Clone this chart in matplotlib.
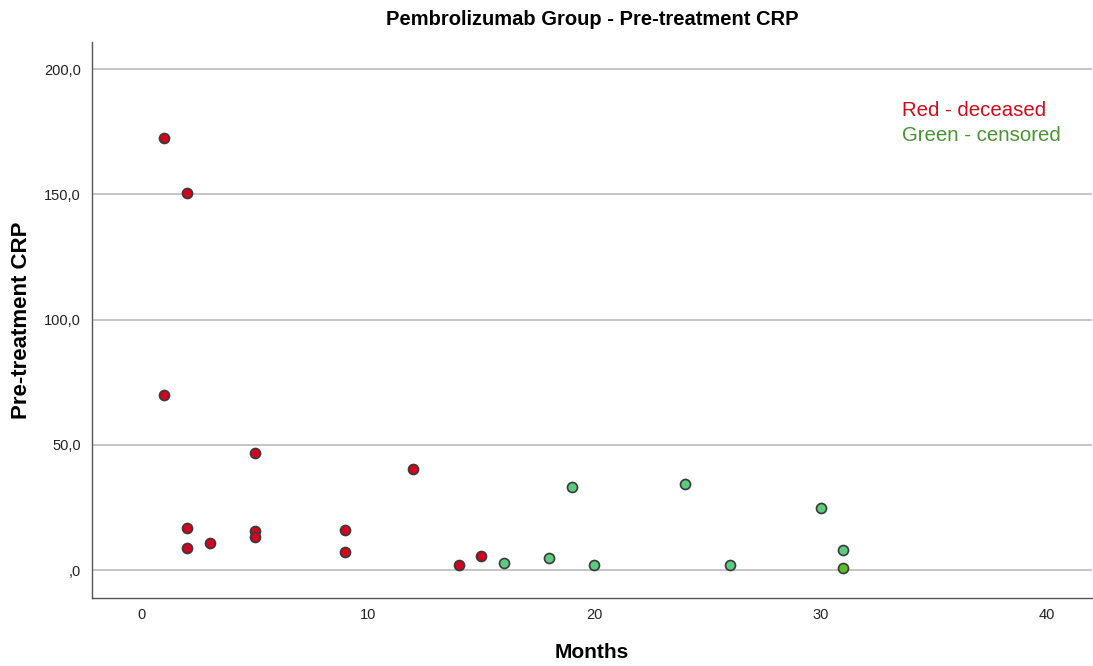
import matplotlib
matplotlib.use("Agg")
import matplotlib.pyplot as plt

plt.rcParams['font.family'] = ['Liberation Sans', 'DejaVu Sans']

# deceased patients (red)
dead_months = [1, 2, 1, 5, 2, 2, 3, 5, 5, 9, 9, 12, 14, 15]
dead_crp = [172.3, 150.5, 70.0, 46.7, 16.8, 8.8, 10.8, 15.6, 13.2, 16.0, 7.2, 40.3, 2.0, 5.6]

# censored patients (green)
cens_months = [16, 18, 19, 20, 24, 26, 30, 31]
cens_crp = [2.8, 4.8, 33.1, 2.0, 34.3, 2.0, 24.8, 8.0]
# one censored point drawn in a darker green
cens2_months = [31]
cens2_crp = [0.8]

yticks = [0, 50, 100, 150, 200]
ytick_labels = [',0', '50,0', '100,0', '150,0', '200,0']
xticks = [0, 10, 20, 30, 40]

fig = plt.figure(figsize=(10.93, 6.66), dpi=100)
ax = fig.add_axes([0.0842, 0.102, 0.915, 0.835])

ax.scatter(dead_months, dead_crp, s=52, facecolor='#d4001f', edgecolor='#3a3a3a',
           linewidth=1.2, zorder=3)
ax.scatter(cens_months, cens_crp, s=52, facecolor='#5bcc7c', edgecolor='#3a3a3a',
           linewidth=1.2, zorder=3)
ax.scatter(cens2_months, cens2_crp, s=52, facecolor='#5cbf2a', edgecolor='#3a3a3a',
           linewidth=1.2, zorder=3)

ax.set_xlim(-2.2, 42.0)
ax.set_ylim(-11.2, 210.8)
ax.set_xticks(xticks)
ax.set_yticks(yticks)
ax.set_yticklabels(ytick_labels)
ax.tick_params(length=0, labelsize=10.5, colors='#222222')
ax.tick_params(axis='y', pad=8)
ax.tick_params(axis='x', pad=7)

ax.yaxis.grid(True, color='#c6c6c6', linewidth=1.4)
ax.set_axisbelow(True)
for side in ['top', 'right']:
    ax.spines[side].set_visible(False)
for side in ['left', 'bottom']:
    ax.spines[side].set_color('#555555')
    ax.spines[side].set_linewidth(1.0)

ax.set_xlabel('Months', fontsize=15, fontweight='bold', labelpad=15)
ax.set_ylabel('Pre-treatment CRP', fontsize=16, fontweight='bold', labelpad=9)
ax.set_title('Pembrolizumab Group - Pre-treatment CRP', fontsize=14.5, fontweight='bold',
             pad=12)

lx = (902 - 92) / 1000
ax.text(lx, 0.877, 'Red - deceased', transform=ax.transAxes, color='#cc0a1a',
        fontsize=14.7, ha='left', va='center')
ax.text(lx, 0.832, 'Green - censored', transform=ax.transAxes, color='#4a9236',
        fontsize=14.7, ha='left', va='center')

fig.savefig('out.png', dpi=100, facecolor='white')
